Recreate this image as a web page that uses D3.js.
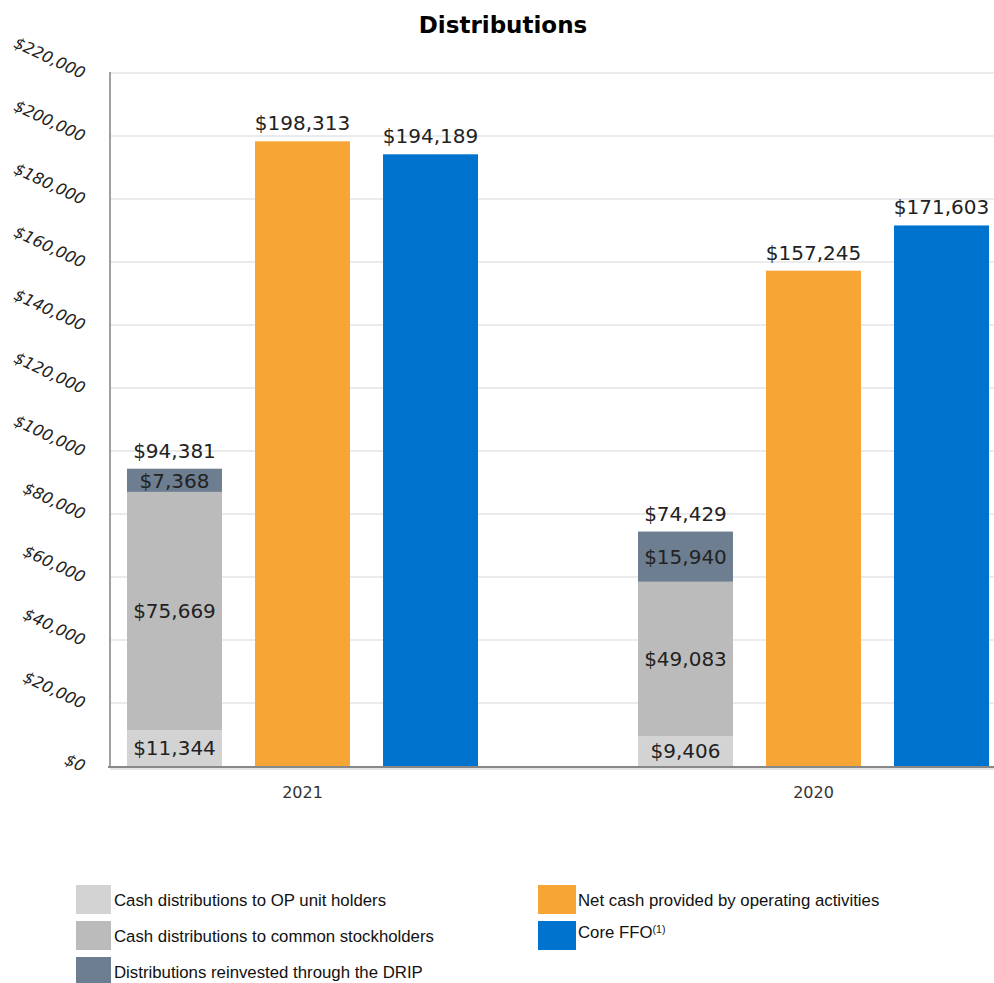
<!DOCTYPE html>
<html>
<head>
<meta charset="utf-8">
<script src="https://cdn.jsdelivr.net/npm/d3@7"></script>
<style>
  html, body { margin: 0; padding: 0; background: #fff; }
  svg { display: block; }
</style>
</head>
<body>
<svg id="chart" width="994" height="983"></svg>
<script>
// ---- Data ----
const years = ["2021", "2020"];
const opUnitHolders = [11344, 9406];
const commonStockholders = [75669, 49083];
const dripReinvested = [7368, 15940];
const netCashOperating = [198313, 157245];
const coreFFO = [194189, 171603];
const yTicks = [0, 20000, 40000, 60000, 80000, 100000, 120000, 140000, 160000, 180000, 200000, 220000];
const stackNames = ["Cash distributions to OP unit holders", "Cash distributions to common stockholders", "Distributions reinvested through the DRIP"];
const barNames = ["Net cash provided by operating activities", "Core FFO"];
const colStack = ["#d3d3d3", "#bbbbbb", "#6d7e91"];
const colBars = ["#f7a535", "#0073cf"];

const svg = d3.select("#chart");
const plotLeft = 110, plotRight = 994, plotTop = 73, plotBottom = 766;

const y = d3.scaleLinear().domain([0, 220000]).range([plotBottom, plotTop]);
const x0 = d3.scalePoint().domain(years).range([302.5, 813.5]);
const x1 = d3.scaleBand().domain(["stack", "net", "ffo"]).range([-175.5, 175.5]).paddingInner(0.258).paddingOuter(0);

const fmt = v => "$" + d3.format(",")(v);
const mainFont = "'DejaVu Sans', Verdana, sans-serif";

// Title
svg.append("text").attr("x", 503).attr("y", 33).attr("text-anchor", "middle")
  .style("font-family", mainFont).style("font-weight", "bold")
  .style("font-size", "23px").attr("fill", "#000").text("Distributions");

// Gridlines
svg.append("g").selectAll("line").data(yTicks.slice(1)).join("line")
  .attr("x1", plotLeft).attr("x2", plotRight)
  .attr("y1", d => y(d)).attr("y2", d => y(d))
  .attr("stroke", "#e4e4e4").attr("stroke-width", 1.5);

// Left axis line
svg.append("line").attr("x1", plotLeft).attr("x2", plotLeft).attr("y1", plotTop - 1).attr("y2", plotBottom)
  .attr("stroke", "#a0a0a0").attr("stroke-width", 2);

// Y tick labels (rotated)
svg.append("g").selectAll("text").data(yTicks).join("text")
  .attr("transform", d => `translate(82, ${y(d) + 6}) rotate(25)`)
  .attr("text-anchor", "end")
  .style("font-family", mainFont)
  .style("font-size", "16px").style("font-style", "italic")
  .attr("fill", "#222").text(d => fmt(d));

// Stacked bars
const stackData = years.map((yr, i) => ({ year: yr, op: opUnitHolders[i], common: commonStockholders[i], drip: dripReinvested[i] }));
const stack = d3.stack().keys(["op", "common", "drip"])(stackData);
const gStack = svg.append("g");
stack.forEach((layer, li) => {
  layer.forEach(seg => {
    const yr = seg.data.year;
    const bx = x0(yr) + x1("stack");
    gStack.append("rect").attr("x", bx).attr("width", x1.bandwidth())
      .attr("y", y(seg[1])).attr("height", y(seg[0]) - y(seg[1]))
      .attr("fill", colStack[li]);
    gStack.append("text").attr("x", bx + x1.bandwidth() / 2)
      .attr("y", (y(seg[0]) + y(seg[1])) / 2)
      .attr("dy", "0.36em").attr("text-anchor", "middle")
      .style("font-family", mainFont).style("font-size", "20px")
      .attr("fill", "#222").text(fmt(seg[1] - seg[0]));
  });
});
// Stack totals
stackData.forEach(d => {
  const total = d.op + d.common + d.drip;
  svg.append("text").attr("x", x0(d.year) + x1("stack") + x1.bandwidth() / 2)
    .attr("y", y(total) - 11).attr("text-anchor", "middle")
    .style("font-family", mainFont).style("font-size", "20px")
    .attr("fill", "#222").text(fmt(total));
});

// Simple bars
const series = [{ key: "net", vals: netCashOperating, color: colBars[0] }, { key: "ffo", vals: coreFFO, color: colBars[1] }];
series.forEach(s => {
  years.forEach((yr, i) => {
    const bx = x0(yr) + x1(s.key);
    svg.append("rect").attr("x", bx).attr("width", x1.bandwidth())
      .attr("y", y(s.vals[i])).attr("height", y(0) - y(s.vals[i]))
      .attr("fill", s.color);
    svg.append("text").attr("x", bx + x1.bandwidth() / 2).attr("y", y(s.vals[i]) - 11)
      .attr("text-anchor", "middle")
      .style("font-family", mainFont).style("font-size", "20px")
      .attr("fill", "#222").text(fmt(s.vals[i]));
  });
});

// Bottom axis line
svg.append("line").attr("x1", plotLeft - 2).attr("x2", plotRight).attr("y1", plotBottom + 1).attr("y2", plotBottom + 1)
  .attr("stroke", "#888").attr("stroke-width", 2);
svg.append("line").attr("x1", plotLeft).attr("x2", plotRight).attr("y1", plotBottom + 3).attr("y2", plotBottom + 3)
  .attr("stroke", "#ccc").attr("stroke-width", 1);

// X labels
svg.append("g").selectAll("text").data(years).join("text")
  .attr("x", d => x0(d)).attr("y", 798).attr("text-anchor", "middle")
  .style("font-family", mainFont).style("font-size", "16px")
  .attr("fill", "#333").text(d => d);

// Legend
const legFont = "'Liberation Sans', Arial, sans-serif";
const leg1 = svg.append("g");
stackNames.forEach((n, i) => {
  const yy = 885 + i * 36;
  leg1.append("rect").attr("x", 76).attr("y", yy).attr("width", 35).attr("height", 29).attr("fill", colStack[i]);
  leg1.append("text").attr("x", 114).attr("y", yy + 21).style("font-family", legFont).style("font-size", "16.8px")
    .attr("fill", "#111").text(n);
});
const leg2 = svg.append("g");
barNames.forEach((n, i) => {
  const yy = 885 + i * 36;
  leg2.append("rect").attr("x", 538).attr("y", yy).attr("width", 38).attr("height", 29).attr("fill", colBars[i]);
  const t = leg2.append("text").attr("x", 578).attr("y", yy + (i === 0 ? 21 : 17)).style("font-family", legFont).style("font-size", "16.8px")
    .attr("fill", "#111").text(n);
  if (i === 1) {
    t.append("tspan").attr("dy", "-5").style("font-size", "10.5px").text("(1)");
  }
});
</script>
</body>
</html>
